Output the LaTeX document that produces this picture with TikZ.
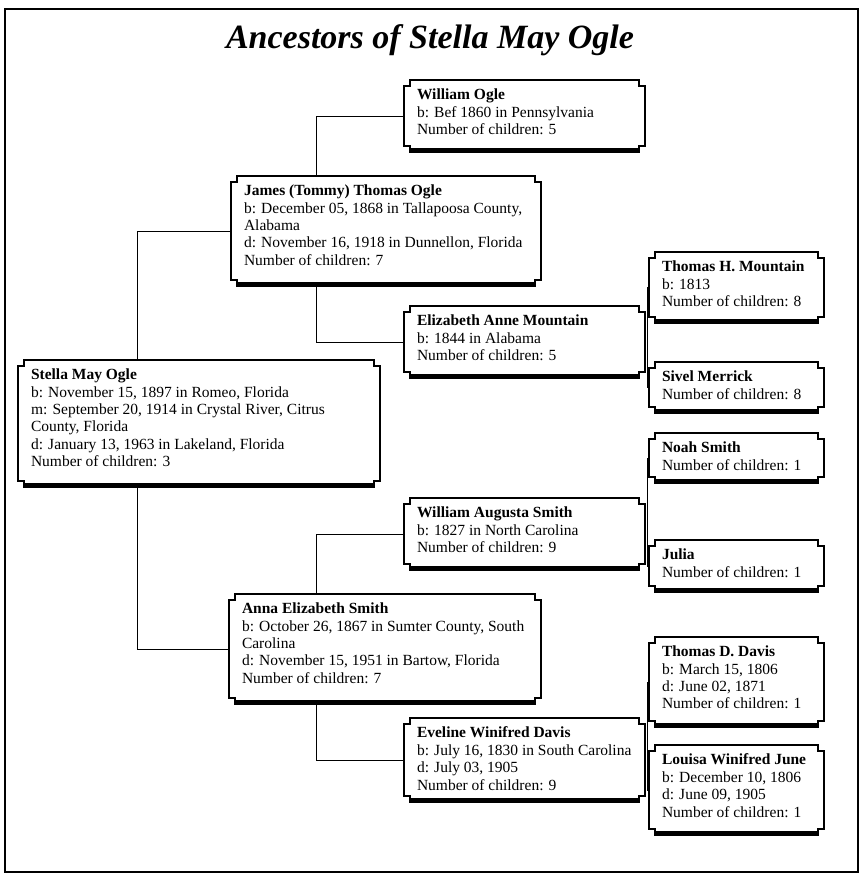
\documentclass[tikz,border=0pt]{standalone}
\usepackage{fontspec}
\setmainfont{Liberation Serif}
\usetikzlibrary{calc}
\tikzset{
  boxarea/.style={rectangle, inner sep=0pt, outer sep=0pt, draw=none, anchor=north west},
  boxtext/.style={inner sep=0pt, outer sep=0pt, anchor=north west, align=left,
    font=\fontsize{15.5}{17.4}\selectfont},
  boxline/.style={draw=black, line width=1.1pt, fill=white, line join=miter},
  conn/.style={draw=black, line width=1pt},
}
\newcommand\famb[6]{%
  \node[boxarea, minimum width=#4pt, minimum height=#5pt] (#1) at (#2,#3) {};
  \path[boxline] let \p1=(#1.north west), \p2=(#1.south east) in
    (\x1+6pt,\y1) -- (\x2-6pt,\y1) -- (\x2-6pt,\y1-6pt) -- (\x2,\y1-6pt)
    -- (\x2,\y2+6pt) -- (\x2-6pt,\y2+6pt) -- (\x2-6pt,\y2)
    -- (\x1+6pt,\y2) -- (\x1+6pt,\y2+6pt) -- (\x1,\y2+6pt)
    -- (\x1,\y1-6pt) -- (\x1+6pt,\y1-6pt) -- cycle;
  \fill let \p1=(#1.north west), \p2=(#1.south east) in
    (\x1+6pt,\y2) rectangle (\x2-6pt,\y2+4pt);
  \node[boxtext] (#1t) at ([xshift=13pt,yshift=-9pt]#1.north west) {#6};
}
\begin{document}
\begin{tikzpicture}[x=1pt,y=-1pt]
\useasboundingbox (0,0) rectangle (861,876);
\fill[white] (0,0) rectangle (861,876);
\draw[line width=2pt] (5,9) rectangle (858,872);
\node[font=\fontsize{34}{40}\selectfont\bfseries\itshape] (title) at (430,40) {Ancestors of Stella May Ogle};

\famb{wogle}{404}{80}{241}{72}{\textbf{William Ogle}\\b: Bef 1860 in Pennsylvania\\Number of children: 5}
\famb{james}{231}{176}{310}{110}{\textbf{James (Tommy) Thomas Ogle}\\b: December 05, 1868 in Tallapoosa County,\\Alabama\\d: November 16, 1918 in Dunnellon, Florida\\Number of children: 7}
\famb{eliz}{404}{306}{241}{72}{\textbf{Elizabeth Anne Mountain}\\b: 1844 in Alabama\\Number of children: 5}
\famb{thmount}{649}{252}{175}{71}{\textbf{Thomas H. Mountain}\\b: 1813\\Number of children: 8}
\famb{sivel}{649}{362}{175}{51}{\textbf{Sivel Merrick}\\Number of children: 8}
\famb{stella}{18}{360}{362}{127}{\textbf{Stella May Ogle}\\b: November 15, 1897 in Romeo, Florida\\m: September 20, 1914 in Crystal River, Citrus\\County, Florida\\d: January 13, 1963 in Lakeland, Florida\\Number of children: 3}
\famb{noah}{649}{433}{175}{50}{\textbf{Noah Smith}\\Number of children: 1}
\famb{wasmith}{404}{498}{241}{72}{\textbf{William Augusta Smith}\\b: 1827 in North Carolina\\Number of children: 9}
\famb{julia}{649}{540}{175}{52}{\textbf{Julia}\\Number of children: 1}
\famb{anna}{229}{594}{312}{110}{\textbf{Anna Elizabeth Smith}\\b: October 26, 1867 in Sumter County, South\\Carolina\\d: November 15, 1951 in Bartow, Florida\\Number of children: 7}
\famb{thdavis}{649}{637}{175}{90}{\textbf{Thomas D. Davis}\\b: March 15, 1806\\d: June 02, 1871\\Number of children: 1}
\famb{eveline}{404}{718}{241}{84}{\textbf{Eveline Winifred Davis}\\b: July 16, 1830 in South Carolina\\d: July 03, 1905\\Number of children: 9}
\famb{louisa}{649}{745}{175}{90}{\textbf{Louisa Winifred June}\\b: December 10, 1806\\d: June 09, 1905\\Number of children: 1}

\draw[conn] ([xshift=85pt]james.north west) |- (wogle.west);
\draw[conn] ([xshift=85pt]james.south west) |- (eliz.west);
\draw[conn] ([xshift=119pt]stella.north west) |- (james.west);
\draw[conn] ([xshift=119pt]stella.south west) |- (anna.west);
\draw[conn] ([xshift=87pt]anna.north west) |- (wasmith.west);
\draw[conn] ([xshift=87pt]anna.south west) |- (eveline.west);
\draw[conn] (thmount.west) -- ++(-2,0) |- (sivel.west);
\draw[conn] (noah.west) -- ++(-2,0) |- (julia.west);
\draw[conn] (thdavis.west) -- ++(-2,0) |- (louisa.west);
\end{tikzpicture}
\end{document}
